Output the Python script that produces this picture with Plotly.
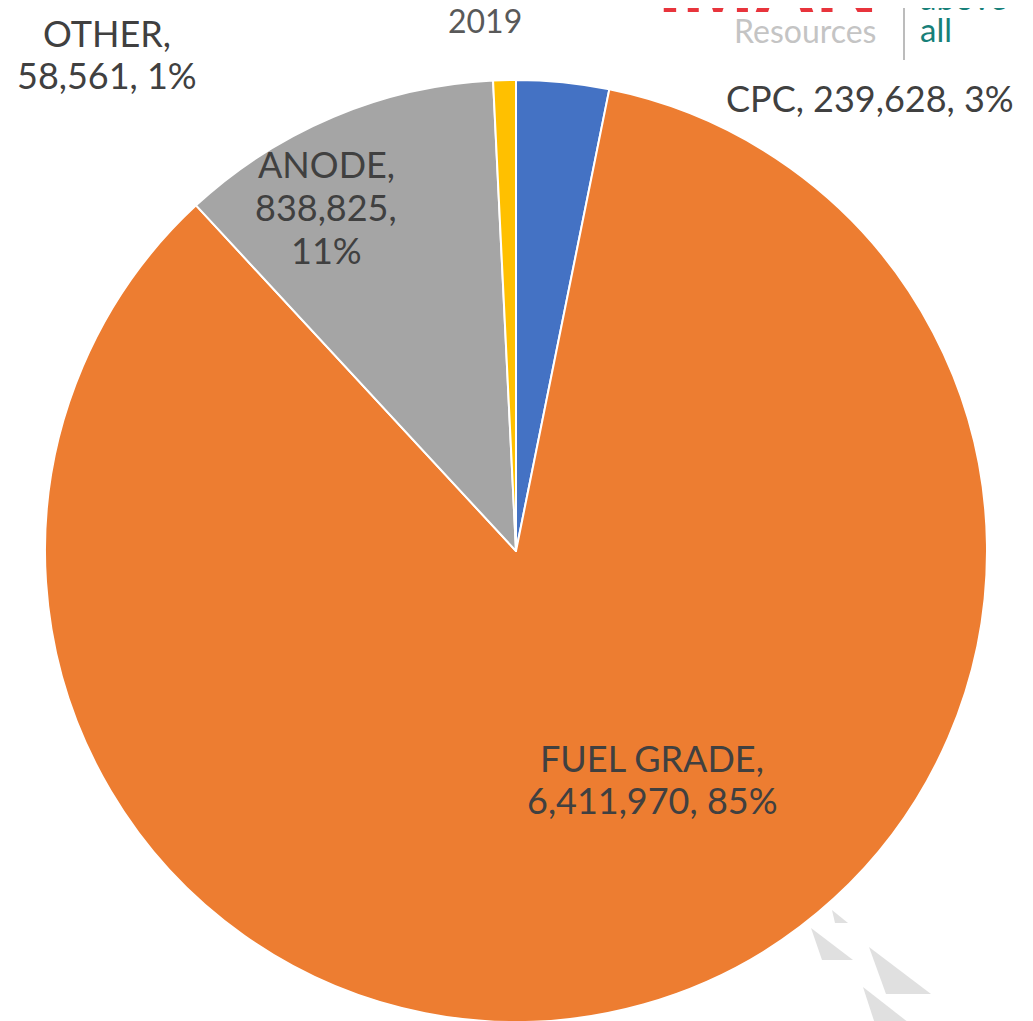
import plotly.graph_objects as go

W, H = 1033, 1021
OFF = 8  # page offset of the figure (browser body margin)

# ---- data ----
labels = ["CPC", "FUEL GRADE", "ANODE", "OTHER"]
values = [239628, 6411970, 838825, 58561]
colors = ["#4472C4", "#ED7D31", "#A5A5A5", "#FFC000"]
title_text = "2019"

# ---- layout helpers: page pixel -> paper coords ----
def px(x, y):
    return (x - OFF) / W, 1 - (y - OFF) / H

total = sum(values)
pcts = [round(v * 100 / total) for v in values]

# pie centre (page) 516,551 radius 471
cx, cy, r = 516 - OFF, 551 - OFF, 471
fig = go.Figure(go.Pie(
    labels=labels, values=values, sort=False, direction="clockwise", rotation=0,
    marker=dict(colors=colors, line=dict(color="white", width=2)),
    textinfo="none", hoverinfo="label+value+percent", showlegend=False,
    domain=dict(x=[0, 2 * cx / W], y=[1 - (cy + r) / H, 1 - (cy - r) / H]),
))

label_layout = {
    "OTHER": dict(groups=[[0], [1, 2]], x=107, ys=[33, 75]),
    "CPC": dict(groups=[[0, 1, 2]], x=870, ys=[98]),
    "ANODE": dict(groups=[[0], [1], [2]], x=326, ys=[164, 207, 250]),
    "FUEL GRADE": dict(groups=[[0], [1, 2]], x=652, ys=[758, 800]),
}

FONT = "Lato"
annotations = []
for lab, val, pct in zip(labels, values, pcts):
    parts = [f"{lab},", f"{val:,},", f"{pct}%"]
    spec = label_layout[lab]
    for grp, yy in zip(spec["groups"], spec["ys"]):
        line = " ".join(parts[i] for i in grp)
        xx, yp = px(spec["x"], yy)
        annotations.append(dict(x=xx, y=yp, xref="paper", yref="paper", text=line,
                                showarrow=False, xanchor="center", yanchor="middle",
                                font=dict(family=FONT, size=36, color="#404040")))

# title
tx, ty = px(485, 20)
annotations.append(dict(x=tx, y=ty, xref="paper", yref="paper", text=title_text,
                        showarrow=False, xanchor="center", yanchor="middle",
                        font=dict(family=FONT, size=32, color="#595959")))

# logo text (partly cut at top like the reference)
lx, ly = px(880, -18)
annotations.append(dict(x=lx, y=ly, xref="paper", yref="paper", text="<b>IMAN</b>",
                        showarrow=False, xanchor="right", yanchor="middle",
                        font=dict(family="Liberation Sans", size=86, color="#E8343C")))
rx, ry = px(878, 30)
annotations.append(dict(x=rx, y=ry, xref="paper", yref="paper", text="Resources",
                        showarrow=False, xanchor="right", yanchor="middle",
                        font=dict(family=FONT, size=32, color="#C4C4C4")))
ax_, ay_ = px(918, 29)
annotations.append(dict(x=ax_, y=ay_, xref="paper", yref="paper", text="all",
                        showarrow=False, xanchor="left", yanchor="middle",
                        font=dict(family=FONT, size=33, color="#178079")))
bx, by = px(918, -3)
annotations.append(dict(x=bx, y=by, xref="paper", yref="paper", text="above",
                        showarrow=False, xanchor="left", yanchor="middle",
                        font=dict(family=FONT, size=33, color="#178079")))

shapes = []
x0, y0 = px(904, 0)
x1, y1 = px(904, 60)
shapes.append(dict(type="line", xref="paper", yref="paper", x0=x0, y0=y0, x1=x1, y1=y1,
                   line=dict(color="#A6A6A6", width=1.5)))

tris = [
    [(832, 910), (835, 923), (848, 923)],
    [(811, 928), (822, 960), (853, 960)],
    [(869, 947), (886, 994), (931, 994)],
    [(863, 987), (877, 1030), (918, 1030)],
]
for t in tris:
    pts = [px(a, b) for a, b in t]
    path = "M " + " L ".join(f"{a},{b}" for a, b in pts) + " Z"
    shapes.append(dict(type="path", xref="paper", yref="paper", path=path,
                       fillcolor="#E0E0E0", line=dict(width=0), layer="below"))

fig.update_layout(
    width=W, height=H, margin=dict(l=0, r=0, t=0, b=0),
    paper_bgcolor="white", plot_bgcolor="white",
    annotations=annotations, shapes=shapes,
)

fig.write_html("out.html")
